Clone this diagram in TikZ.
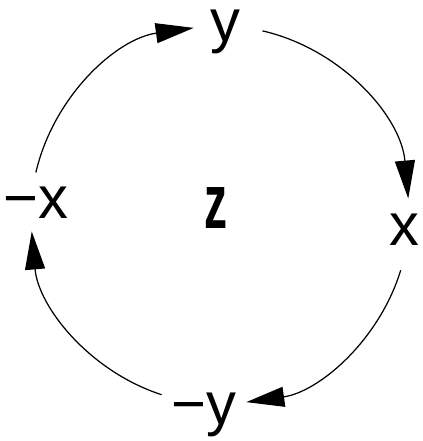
\documentclass[tikz,border=0pt]{standalone}
\usepackage{fontspec}
\setmainfont{Liberation Sans}
\usetikzlibrary{arrows.meta}

\begin{document}
\begin{tikzpicture}[
    x=0.02cm, y=0.02cm,
    lbl/.style={inner sep=0pt, anchor=base, font=\fontsize{34}{40}\selectfont},
    axis/.style={inner sep=0pt, font=\fontsize{34}{40}\selectfont\bfseries},
    arrow/.style={-{Triangle[length=7.6mm, width=4mm]}, line width=0.7pt}
]
  \useasboundingbox (0,0) rectangle (423,441);
  \def\rad{3.78cm}
  \coordinate (c) at (220,226);

  \node[lbl] (py) at (225,400) {y};
  \node[lbl] (px) at (404,196) {x};
  \node[lbl] (my) at (204,16) {−y};
  \node[lbl] (mx) at (36,223) {−x};
  \node[axis] (z) at (216,233) {\resizebox{0.46cm}{0.82cm}{z}};

  % arcs round the circle, clockwise
  \coordinate (a1) at ([shift={(167:\rad)}]c);
  \coordinate (a2) at ([shift={(77:\rad)}]c);
  \coordinate (a3) at ([shift={(-17:\rad)}]c);
  \coordinate (a4) at ([shift={(252:\rad)}]c);
  \draw[arrow] (a1) arc[start angle=167, end angle=98, radius=\rad];
  \draw[arrow] (a2) arc[start angle=77, end angle=5, radius=\rad];
  \draw[arrow] (a3) arc[start angle=-17, end angle=-82, radius=\rad];
  \draw[arrow] (a4) arc[start angle=252, end angle=185, radius=\rad];
\end{tikzpicture}
\end{document}
